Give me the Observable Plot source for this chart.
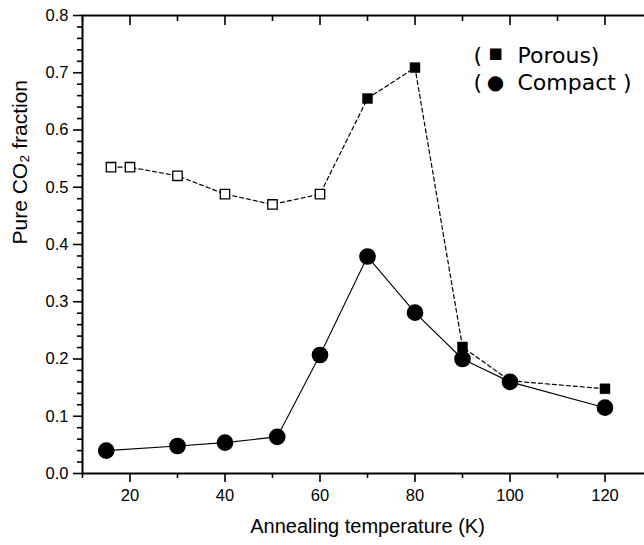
<!DOCTYPE html>
<html><head><meta charset="utf-8">
<script src="https://cdn.jsdelivr.net/npm/d3@7"></script>
<script src="https://cdn.jsdelivr.net/npm/@observablehq/plot@0.6"></script>
<style>
html,body{margin:0;padding:0;background:#fff;overflow:hidden;}
svg{overflow:hidden;display:block}
</style></head><body><div id="chart"></div>
<script>
// Data
const porousT = [16, 20, 30, 40, 50, 60, 70, 80, 90, 100, 120];
const porousV = [0.535, 0.535, 0.520, 0.488, 0.470, 0.488, 0.655, 0.709, 0.221, 0.162, 0.148];
const porousFilled = [false, false, false, false, false, false, true, true, true, true, true];
const compactT = [15, 30, 40, 51, 60, 70, 80, 90, 100, 120];
const compactV = [0.040, 0.048, 0.054, 0.064, 0.207, 0.379, 0.281, 0.200, 0.160, 0.115];

const xMajor = [20, 40, 60, 80, 100, 120];
const xMinor = [10, 30, 50, 70, 90, 110, 130];
const yMajor = [0, 0.1, 0.2, 0.3, 0.4, 0.5, 0.6, 0.7, 0.8];
const yMinor = [0.02,0.04,0.06,0.08,0.12,0.14,0.16,0.18,0.22,0.24,0.26,0.28,0.32,0.34,0.36,0.38,0.42,0.44,0.46,0.48,0.52,0.54,0.56,0.58,0.62,0.64,0.66,0.68,0.72,0.74,0.76,0.78];
const xTitle = "Annealing temperature (K)";
const yTitle = "Pure CO\u2082 fraction";
const legendOpen = ["(", "("];
const legendSymbols = ["\u25A0", "\u25CF"];
const legendLabels = ["Porous)", "Compact )"];

const porous = porousT.map((t, i) => ({t, v: porousV[i], filled: porousFilled[i]}));
const compact = compactT.map((t, i) => ({t, v: compactV[i]}));

const font = "Liberation Sans, Arial, sans-serif";
const legendFont = "DejaVu Sans, sans-serif";
const none = () => "";

function legendRow(i, dy) {
  return [
    Plot.text([legendOpen[i]], {frameAnchor: "top-left", dx: 391, dy, textAnchor: "start", fontFamily: legendFont, fontSize: 22, fill: "black"}),
    Plot.text([legendSymbols[i]], {frameAnchor: "top-left", dx: 413, dy, textAnchor: "middle", fontFamily: legendFont, fontSize: i === 0 ? 15 : 20, fill: "black"}),
    Plot.text([legendLabels[i]], {frameAnchor: "top-left", dx: 435, dy, textAnchor: "start", fontFamily: legendFont, fontSize: 22, fill: "black"})
  ];
}

const chart = Plot.plot({
  width: 644,
  height: 545,
  marginLeft: 82,
  marginRight: -8,
  marginTop: 15,
  marginBottom: 72,
  style: {fontFamily: font, background: "white", color: "black"},
  x: {domain: [10, 130], label: null},
  y: {domain: [0, 0.8], label: null},
  marks: [
    Plot.line(porous, {x: "t", y: "v", stroke: "black", strokeWidth: 1.2, strokeDasharray: "4,3"}),
    Plot.line(compact, {x: "t", y: "v", stroke: "black", strokeWidth: 1.1}),
    Plot.dot(porous, {filter: d => !d.filled, x: "t", y: "v", symbol: "square", r: 5.3, fill: "white", stroke: "black", strokeWidth: 1.3}),
    Plot.dot(porous, {filter: d => d.filled, x: "t", y: "v", symbol: "square", r: 5.6, fill: "black", stroke: "black", strokeWidth: 0.5}),
    Plot.dot(compact, {x: "t", y: "v", symbol: "circle", r: 7.6, fill: "black", stroke: "black"}),
    Plot.axisY(yMajor, {anchor: "left", tickSize: 9, tickPadding: 5, tickFormat: d3.format(".1f"), fontSize: 16.5, strokeWidth: 1.6, label: null}),
    Plot.axisY(yMinor, {anchor: "left", tickSize: 5, tickFormat: none, strokeWidth: 1.6, label: null}),
    Plot.axisY(yMajor, {anchor: "right", tickSize: -9, tickFormat: none, strokeWidth: 1.6, label: null}),
    Plot.axisX(xMajor, {anchor: "bottom", tickSize: 9, tickPadding: 7, tickFormat: d => String(d), fontSize: 16.5, strokeWidth: 1.6, label: null}),
    Plot.axisX(xMinor, {anchor: "bottom", tickSize: 5, tickFormat: none, strokeWidth: 1.6, label: null}),
    Plot.axisX(xMajor, {anchor: "top", tickSize: -9, tickFormat: none, strokeWidth: 1.6, label: null}),
    Plot.axisX(xMinor, {anchor: "top", tickSize: -5, tickFormat: none, strokeWidth: 1.6, label: null}),
    Plot.frame({stroke: "black", strokeWidth: 2}),
    Plot.text([xTitle], {frameAnchor: "bottom", dy: 59, fontSize: 20, fontFamily: font, fill: "black"}),
    Plot.text([yTitle], {frameAnchor: "left", dx: -62, rotate: -90, fontSize: 21, fontFamily: font, fill: "black"}),
    ...legendRow(0, 32),
    ...legendRow(1, 59)
  ]
});
document.getElementById("chart").appendChild(chart);
</script>
</body></html>
